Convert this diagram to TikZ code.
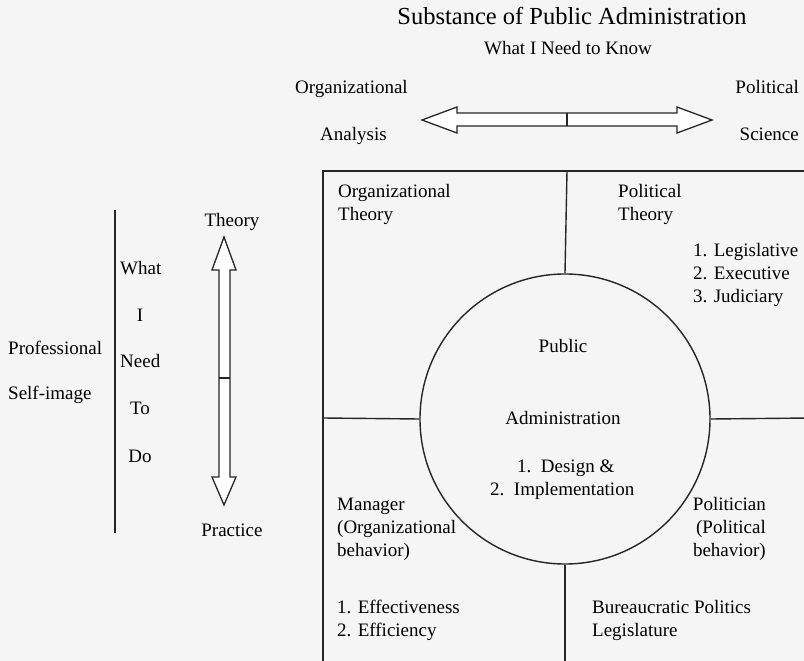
\documentclass[tikz,border=0pt]{standalone}
\usepackage{fontspec}
\setmainfont{Liberation Serif}
\begin{document}
\begin{tikzpicture}[x=1pt,y=-1pt,
  txt/.style={inner sep=0pt,font=\fontsize{19}{23}\selectfont,text height=13pt,text depth=4pt},
  ln/.style={line width=1.4pt,black!85},
  blockarrow/.style={line width=1.3pt,black!85,fill=white,line join=miter}]
\fill[black!4] (0,0) rectangle (804,661);
\useasboundingbox (0,0) rectangle (804,661);

% heading
\node[txt,font=\fontsize{24.5}{28}\selectfont,text height=16pt] (title) at (572,19) {Substance of Public Administration};
\node[txt] (know) at (568,50) {What I Need to Know};

% horizontal double arrow between the two disciplines
\node[txt,anchor=west] (orgA) at (295,89) {Organizational};
\node[txt,anchor=west] (anal) at (320,136) {Analysis};
\node[txt,anchor=east] (polA) at (799,89) {Political};
\node[txt,anchor=east] (sci) at (799,136) {Science};
\draw[blockarrow] (422,120) -- (457,107) -- (457,113) -- (677,113) -- (677,107)
  -- (712,120) -- (677,133) -- (677,126) -- (457,126) -- (457,133) -- cycle;
\draw[ln] (567,113) -- (567,126);

% left panel: professional self-image
\draw[ln] (115,210) -- (115,533);
\node[txt,anchor=west] (prof) at (8,350) {Professional};
\node[txt,anchor=west] (self) at (8,395) {Self-image};
\node[txt,anchor=west] (w1) at (120,270) {What};
\node[txt] (w2) at (140,317) {I};
\node[txt,anchor=west] (w3) at (120,363) {Need};
\node[txt] (w4) at (140,410) {To};
\node[txt] (w5) at (140,458) {Do};
\node[txt] (theory) at (232,222) {Theory};
\node[txt] (practice) at (232,532) {Practice};
\draw[blockarrow] (224,237) -- (236,270) -- (230,270) -- (230,477) -- (236,477)
  -- (224,505) -- (212,477) -- (219,477) -- (219,270) -- (212,270) -- cycle;
\draw[ln] (219,378) -- (230,378);

% quadrants and the central circle
\node[circle,draw,line width=1.4pt,black!85,minimum size=290pt,inner sep=0pt] (pa) at (565,419) {};
\coordinate (boxL) at (323,418);
\coordinate (boxR) at (810,418);
\coordinate (topM) at (567,171);
\coordinate (botM) at (565,670);
\draw[ln] (323,670) -- (323,171) -- (810,171);
\draw[ln] (topM) -- (pa.north);
\draw[ln] (pa.south) -- (botM);
\draw[ln] (boxL) -- (pa.west);
\draw[ln] (pa.east) -- (boxR);

\node[txt,anchor=west,align=left] (ot) at (338,216) {Organizational\\Theory};
\node[txt,anchor=west,align=left] (pt) at (618,216) {Political\\Theory};
\node[txt,anchor=west,align=left] (branches) at (693,298) {1. Legislative\\2. Executive\\3. Judiciary};
\node[txt] (pub) at (563,348) {Public};
\node[txt] (adm) at (563,420) {Administration};
\node[txt,anchor=west] (d1) at (517,468) {1.\ \ Design \&};
\node[txt,anchor=west] (d2) at (490,491) {2.\ \ Implementation};
\node[txt,anchor=west,align=left] (mgr) at (337,552) {Manager\\(Organizational\\behavior)};
\node[txt,anchor=east,align=right] (pol) at (766,552) {Politician\\(Political\\behavior)};
\node[txt,anchor=west,align=left] (eff) at (337,632) {1. Effectiveness\\2. Efficiency};
\node[txt,anchor=west,align=left] (bur) at (592,632) {Bureaucratic Politics\\Legislature};
\end{tikzpicture}
\end{document}
